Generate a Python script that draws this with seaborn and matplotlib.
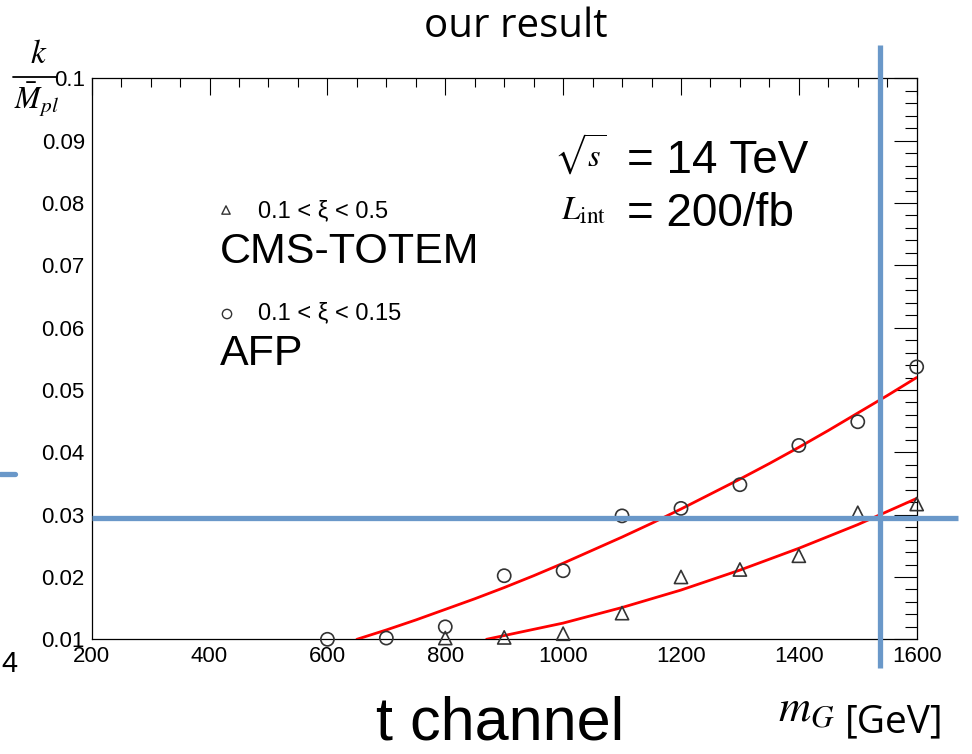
import matplotlib
matplotlib.use("Agg")
import matplotlib.pyplot as plt
import seaborn as sns
import pandas as pd
from matplotlib.lines import Line2D
from matplotlib.ticker import MultipleLocator, FixedLocator, FixedFormatter

# ---------------- data ----------------
afp_mass = [600, 700, 800, 900, 1000, 1100, 1200, 1300, 1400, 1500, 1600]
afp_k = [0.0100, 0.0102, 0.0120, 0.0202, 0.0210, 0.0298, 0.0310, 0.0348, 0.0411, 0.0449, 0.0537]

cms_mass = [800, 900, 1000, 1100, 1200, 1300, 1400, 1500, 1600]
cms_k = [0.0102, 0.0103, 0.0109, 0.0142, 0.0200, 0.0212, 0.0234, 0.0303, 0.0317]

# red fit curves
afp_fit_mass = [650, 700, 750, 800, 850, 900, 950, 1000, 1050, 1100, 1150, 1200,
                1250, 1300, 1350, 1400, 1450, 1500, 1550, 1600]
afp_fit_k = [0.0100, 0.0115, 0.0131, 0.0148, 0.0165, 0.0183, 0.0202, 0.0222, 0.0243,
             0.0264, 0.0286, 0.0309, 0.0333, 0.0357, 0.0382, 0.0408, 0.0435, 0.0463,
             0.0491, 0.0520]
cms_fit_mass = [870, 900, 1000, 1100, 1200, 1300, 1400, 1500, 1600]
cms_fit_k = [0.0100, 0.0106, 0.0126, 0.0151, 0.0179, 0.0211, 0.0246, 0.0284, 0.0326]

# blue guide lines
guide_k = 0.0295
guide_mass = 1537

x_ticks = [200, 400, 600, 800, 1000, 1200, 1400, 1600]
x_labels = ["200", "400", "600", "800", "1000", "1200", "1400", "1600"]
y_ticks = [0.01, 0.02, 0.03, 0.04, 0.05, 0.06, 0.07, 0.08, 0.09, 0.1]
y_labels = ["0.01", "0.02", "0.03", "0.04", "0.05", "0.06", "0.07", "0.08", "0.09", "0.1"]

# ---------------- figure ----------------
sns.set_style("white")
plt.rcParams["font.family"] = ["Liberation Sans", "DejaVu Sans"]
plt.rcParams["mathtext.fontset"] = "stix"
plt.rcParams["text.color"] = "black"

W, H = 972, 754
fig = plt.figure(figsize=(W / 100, H / 100), dpi=100)
L, R, T, B = 91.7, 916.7, 78.3, 639.3
ax = fig.add_axes([L / W, 1 - B / H, (R - L) / W, (B - T) / H])

def fx(px):
    return px / W

def fy(py):
    return 1 - py / H

afp_fit = pd.DataFrame({"m": afp_fit_mass, "k": afp_fit_k})
cms_fit = pd.DataFrame({"m": cms_fit_mass, "k": cms_fit_k})
afp = pd.DataFrame({"m": afp_mass, "k": afp_k})
cms = pd.DataFrame({"m": cms_mass, "k": cms_k})

sns.lineplot(data=afp_fit, x="m", y="k", color="#ff0000", lw=2.0, ax=ax, zorder=3)
sns.lineplot(data=cms_fit, x="m", y="k", color="#ff0000", lw=2.0, ax=ax, zorder=3)
sns.scatterplot(data=afp, x="m", y="k", marker="o", s=90, facecolors="none",
                edgecolor="#333333", linewidth=1.2, ax=ax, zorder=4, clip_on=False)
sns.scatterplot(data=cms, x="m", y="k", marker="^", s=90, facecolors="none",
                edgecolor="#333333", linewidth=1.2, ax=ax, zorder=4, clip_on=False)

ax.set_xlim(200, 1600)
ax.set_ylim(0.01, 0.1)
ax.set_xlabel("")
ax.set_ylabel("")

ax.xaxis.set_major_locator(FixedLocator(x_ticks))
ax.xaxis.set_major_formatter(FixedFormatter(x_labels))
ax.xaxis.set_minor_locator(MultipleLocator(50))
ax.yaxis.set_major_locator(FixedLocator(y_ticks))
ax.yaxis.set_major_formatter(FixedFormatter(y_labels))
ax.yaxis.set_minor_locator(MultipleLocator(0.002))

ax.tick_params(axis="both", which="both", direction="in", top=True, right=True,
               color="black", width=0.8, labelsize=16, pad=5, labelcolor="black")
ax.tick_params(axis="x", which="major", length=12.2)
ax.tick_params(axis="x", which="minor", length=6.5)
ax.tick_params(axis="y", which="major", length=16.6)
ax.tick_params(axis="y", which="minor", length=8.6)
for sp in ax.spines.values():
    sp.set_visible(True)
    sp.set_color("black")
    sp.set_linewidth(0.9)

# blue guide lines
blue = "#6a98c9"
ax.plot([200, 1670], [guide_k, guide_k], color=blue, lw=3.8, clip_on=False, zorder=5,
        solid_capstyle="butt")
ax.plot([guide_mass, guide_mass], [0.0054, 0.1053], color=blue, lw=3.8, clip_on=False,
        zorder=5, solid_capstyle="butt")
fig.add_artist(Line2D([fx(0), fx(15)], [fy(474), fy(474)], color=blue, lw=3.8))

# legend-like annotations
ax.scatter([fx(226)], [fy(210)], marker="^", s=36, facecolors="none", edgecolors="#333333",
           linewidths=1.0, transform=fig.transFigure, clip_on=False)
ax.scatter([fx(227)], [fy(314)], marker="o", s=45, facecolors="none", edgecolors="#333333",
           linewidths=1.0, transform=fig.transFigure, clip_on=False)
fig.text(fx(258), fy(217), "0.1 < ξ < 0.5", fontsize=17, va="baseline", ha="left")
fig.text(fx(220), fy(263), "CMS-TOTEM", fontsize=31, va="baseline", ha="left")
fig.text(fx(258), fy(319), "0.1 < ξ < 0.15", fontsize=17, va="baseline", ha="left")
fig.text(fx(220), fy(365), "AFP", fontsize=31, va="baseline", ha="left")

# energy and luminosity
fig.text(fx(554), fy(167), r"$\sqrt{s}$", fontsize=23, va="baseline", ha="left")
fig.text(fx(627), fy(173), "= 14 TeV", fontsize=33, va="baseline", ha="left")
fig.text(fx(561), fy(220), r"$L_{\mathrm{int}}$", fontsize=24, va="baseline", ha="left")
fig.text(fx(627), fy(226), "= 200/fb", fontsize=33, va="baseline", ha="left")

# titles and axis labels
fig.text(fx(516), fy(37), "our result", fontsize=29, va="baseline", ha="center",
         family=["Open Sans", "DejaVu Sans"])
fig.text(fx(500), fy(740), "t channel", fontsize=44, va="baseline", ha="center")
fig.text(fx(778), fy(722), r"$m_G$", fontsize=32, va="baseline", ha="left")
fig.text(fx(845), fy(732), "[GeV]", fontsize=28, va="baseline", ha="left",
         family=["Open Sans", "DejaVu Sans"])

# y-axis fraction label
fig.text(fx(39), fy(63), r"$k$", fontsize=24, va="baseline", ha="center")
fig.add_artist(Line2D([fx(13), fx(57)], [fy(76.5), fy(76.5)], color="black", lw=1.3))
fig.text(fx(14), fy(109), r"$\bar{M}_{pl}$", fontsize=22, va="baseline", ha="left")

# slide remnant
fig.text(fx(1), fy(672), "4", fontsize=21, va="baseline", ha="left")

fig.savefig("out.png", dpi=100)
